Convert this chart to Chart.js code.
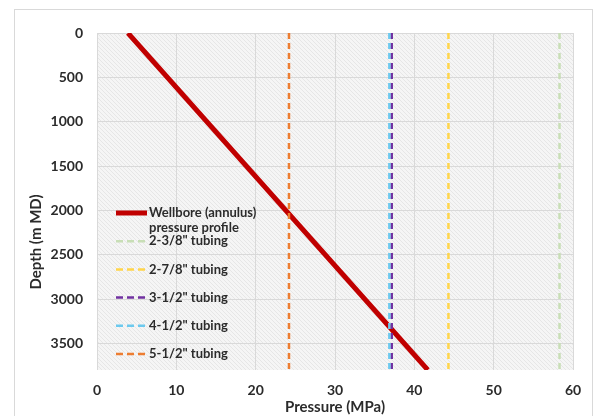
<!DOCTYPE html>
<html><head><meta charset="utf-8">
<script src="https://cdn.jsdelivr.net/npm/chart.js@4.4.1/dist/chart.umd.min.js"></script>
<style>html,body{margin:0;padding:0;background:#fff;}#wrap{width:595px;height:416px;position:relative}</style>
</head><body><div id="wrap"><canvas id="c" width="595" height="416"></canvas></div>
<script>
// ---- data ----
const wellboreLabel = ['Wellbore (annulus)', 'pressure profile'];
const wellboreDepth = [0, 3800];
const wellborePressure = [3.9, 41.7];
const tubingLabels = ['2-3/8" tubing', '2-7/8" tubing', '3-1/2" tubing', '4-1/2" tubing', '5-1/2" tubing'];
const tubingPressure = [58.3, 44.3, 37.15, 36.85, 24.2];
const tubingDepth = [0, 3800];
const depthTicks = [0, 500, 1000, 1500, 2000, 2500, 3000, 3500];
const pressureTicks = [0, 10, 20, 30, 40, 50, 60];

// ---- styles ----
const tubingColors = ['#c8deb6', '#ffd54a', '#7030a0', '#6cc9ee', '#ed7d31'];
const textColor = '#2b2b2b';
const FONT = 'Lato, "Open Sans", sans-serif';

const datasets = [{
  label: wellboreLabel.join(' '),
  data: wellboreDepth.map((d, i) => ({x: wellborePressure[i], y: d})),
  borderColor: '#c00000', borderWidth: 5, pointRadius: 0, fill: false, order: 10,
  legendLines: wellboreLabel
}];
tubingLabels.forEach((lab, i) => {
  datasets.push({
    label: lab,
    data: tubingDepth.map(d => ({x: tubingPressure[i], y: d})),
    borderColor: tubingColors[i], borderWidth: 2.5, borderDash: [6, 4],
    pointRadius: 0, fill: false, order: 5 - i,
    legendLines: [lab]
  });
});

function makePattern(ctx) {
  const p = document.createElement('canvas');
  p.width = 4; p.height = 4;
  const g = p.getContext('2d');
  g.fillStyle = '#f5f5f5'; g.fillRect(0, 0, 4, 4);
  g.strokeStyle = '#e6e6e6'; g.lineWidth = 1;
  g.beginPath(); g.moveTo(0, 0); g.lineTo(4, 4); g.stroke();
  g.beginPath(); g.moveTo(-1, 3); g.lineTo(1, 5); g.stroke();
  g.beginPath(); g.moveTo(3, -1); g.lineTo(5, 1); g.stroke();
  return ctx.createPattern(p, 'repeat');
}

const bgPlugin = {
  id: 'bg',
  beforeDraw(chart) {
    const ctx = chart.ctx, a = chart.chartArea;
    ctx.save();
    ctx.fillStyle = '#fff'; ctx.fillRect(0, 0, chart.width, chart.height);
    ctx.strokeStyle = '#d9d9d9'; ctx.lineWidth = 1;
    ctx.strokeRect(14.5, 9.5, 578, 430);
    ctx.fillStyle = makePattern(ctx);
    ctx.fillRect(a.left, a.top, a.right - a.left, a.bottom - a.top);
    ctx.restore();
  },
  afterDraw(chart) {
    const ctx = chart.ctx;
    ctx.save();
    ctx.translate(36, 242);
    ctx.rotate(-Math.PI / 2);
    ctx.font = 'bold 15px ' + FONT;
    ctx.fillStyle = textColor;
    ctx.textAlign = 'center'; ctx.textBaseline = 'middle';
    ctx.fillText('Depth (m MD)', 0, 0);
    ctx.restore();
  }
};

const legendPlugin = {
  id: 'inLegend',
  afterDatasetsDraw(chart) {
    const ctx = chart.ctx;
    const x0 = 116, x1 = 147, tx = 149;
    let y = 213;
    ctx.save();
    ctx.font = 'bold 13px ' + FONT;
    ctx.fillStyle = textColor;
    ctx.textBaseline = 'middle';
    chart.data.datasets.forEach((ds) => {
      ctx.save();
      ctx.strokeStyle = ds.borderColor;
      ctx.lineWidth = ds.borderWidth;
      ctx.setLineDash(ds.borderDash ? [7, 4] : []);
      ctx.beginPath(); ctx.moveTo(x0, y); ctx.lineTo(x1, y); ctx.stroke();
      ctx.restore();
      ds.legendLines.forEach((t, k) => ctx.fillText(t, tx, y + k * 15));
      y += 28.2;
    });
    ctx.restore();
  }
};

new Chart(document.getElementById('c'), {
  type: 'line',
  data: {datasets},
  options: {
    responsive: false, animation: false, devicePixelRatio: 1,
    layout: {padding: {left: 24, top: 33, right: 22, bottom: 0}},
    plugins: {legend: {display: false}, tooltip: {enabled: false}},
    scales: {
      x: {
        type: 'linear', position: 'bottom', min: 0, max: 60,
        afterBuildTicks: s => { s.ticks = pressureTicks.map(v => ({value: v})); },
        afterFit: s => { s.height = 46; },
        ticks: {font: {family: FONT, size: 14, weight: 'bold'}, color: textColor, padding: 12, callback: v => String(v)},
        grid: {color: '#d9d9d9', drawTicks: false},
        border: {display: false},
        title: {display: true, text: 'Pressure (MPa)', font: {family: FONT, size: 15, weight: 'bold'}, color: textColor, padding: {top: 1, bottom: 0}}
      },
      y: {
        type: 'linear', reverse: true, min: 0, max: 3800,
        afterBuildTicks: s => { s.ticks = depthTicks.map(v => ({value: v})); },
        afterFit: s => { s.width = 73; },
        ticks: {font: {family: FONT, size: 14, weight: 'bold'}, color: textColor, padding: 14, callback: v => String(v)},
        grid: {color: '#d9d9d9', drawTicks: false},
        border: {display: false}
      }
    }
  },
  plugins: [bgPlugin, legendPlugin]
});
</script></body></html>
